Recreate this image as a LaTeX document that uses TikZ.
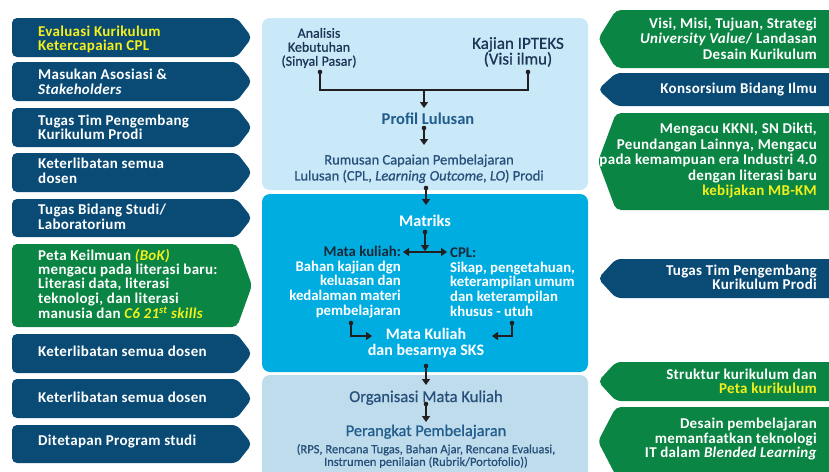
\documentclass[tikz,border=0pt]{standalone}
\usepackage{fontspec}
\setmainfont{Carlito}
\newfontfamily\tagfont[LetterSpace=2]{Carlito}
\newfontfamily\medfont[FakeBold=0.7]{Carlito}
\usetikzlibrary{arrows.meta}
\definecolor{navy}{HTML}{0A4B76}
\definecolor{leaf}{HTML}{0B8543}
\definecolor{yel}{HTML}{F4F01C}
\definecolor{panA}{HTML}{C9E8F8}
\definecolor{panB}{HTML}{00ADE1}
\definecolor{panC}{HTML}{BEDCEC}
\definecolor{ink}{HTML}{1C3455}
\definecolor{inkblue}{HTML}{215C8C}
\definecolor{inkmid}{HTML}{27507A}
\definecolor{inkdark}{HTML}{1A2A3A}
\definecolor{arr}{HTML}{231F20}
\newcommand\lshape[3]{\fill[#3,rounded corners=5pt] (12,#1) -- (237,#1) -- (252,{(#1+#2)/2}) -- (237,#2) -- (12,#2) -- cycle;}
\newcommand\rshape[3]{\fill[#3,rounded corners=5pt] (845,#1) -- (616,#1) -- (598,{(#1+#2)/2}) -- (616,#2) -- (845,#2) -- cycle;}
\begin{document}
\begin{tikzpicture}[x=1pt,y=-1pt,
 lt/.style={anchor=west,align=left,text=white,inner sep=0pt,font=\tagfont\bfseries\fontsize{15}{14.3}\selectfont},
 lone/.style={anchor=base west,text=white,inner sep=0pt,font=\tagfont\bfseries\fontsize{15}{14.3}\selectfont},
 rt/.style={anchor=east,align=right,text=white,inner sep=0pt,font=\tagfont\bfseries\fontsize{15}{15.5}\selectfont},
 rone/.style={anchor=base east,text=white,inner sep=0pt,font=\tagfont\bfseries\fontsize{15}{15.5}\selectfont},
 ct/.style={align=center,inner sep=0pt,text=ink},
 wt/.style={inner sep=0pt,text=white,font=\bfseries\fontsize{14.8}{14.75}\selectfont},
 conn/.style={draw=arr,line width=1.4pt,-{Triangle[length=6pt,width=8pt]}},
 link/.style={draw=arr,line width=1.4pt},
 dbl/.style={draw=arr,line width=1.4pt,{Triangle[length=6pt,width=8pt]}-{Triangle[length=6pt,width=8pt]}}]
\useasboundingbox (0,0) rectangle (829,471);
\clip (0,0) rectangle (829,471);
\fill[white] (0,0) rectangle (829,471);

% ---------- centre panels
\fill[panA,rounded corners=8pt] (262,18) rectangle (588,190);
\fill[panB,rounded corners=8pt] (262,194) rectangle (588,372);
\fill[panC,rounded corners=8pt] (262,375) rectangle (588,495);

% ---------- left boxes
\lshape{18}{57}{navy}
\lshape{62}{101}{navy}
\lshape{108}{147}{navy}
\lshape{153}{192}{navy}
\lshape{199}{237}{navy}
\lshape{244}{327}{leaf}
\lshape{334}{373}{navy}
\lshape{379}{418}{navy}
\lshape{425}{463}{navy}

\node[lt,text=yel] (l1) at (38,39.3) {Evaluasi Kurikulum\\Ketercapaian CPL};
\node[lt] (l2) at (38,81.7) {Masukan Asosiasi \&\\\textit{Stakeholders}};
\node[lt] (l3) at (38,127) {Tugas Tim Pengembang\\Kurikulum Prodi};
\node[lt] (l4) at (38,170.8) {Keterlibatan semua\\dosen};
\node[lt] (l5) at (38,216.7) {Tugas Bidang Studi/\\Laboratorium};
\node[lt] (l6) at (38,284) {Peta Keilmuan \textcolor{yel}{\textit{(BoK)}}\\mengacu pada literasi baru:\\Literasi data, literasi\\teknologi, dan literasi\\manusia dan \textcolor{yel}{\textit{C6 21\textsuperscript{st} skills}}};
\node[lone] (l7) at (38,356.7) {Keterlibatan semua dosen};
\node[lone] (l8) at (38,402.7) {Keterlibatan semua dosen};
\node[lone] (l9) at (38,445) {Ditetapan Program studi};

% ---------- right boxes
\rshape{10}{68}{leaf}
\rshape{73}{106}{navy}
\rshape{113}{210}{leaf}
\rshape{259}{298}{navy}
\rshape{362}{401}{leaf}
\rshape{407}{476}{leaf}

\node[rt] (r1) at (817,38.5) {Visi, Misi, Tujuan, Strategi\\\textit{University Value}/ Landasan\\Desain Kurikulum};
\node[rone] (r2) at (817,93.3) {Konsorsium Bidang Ilmu};
\node[rt] (r3) at (817,160.5) {Mengacu KKNI, SN Dikti,\\Peundangan Lainnya, Mengacu\\pada kemampuan era Industri 4.0\\dengan literasi baru\\\textcolor{yel}{kebijakan MB-KM}};
\node[rt,font=\tagfont\bfseries\fontsize{15}{14}\selectfont] (r4) at (817,277) {Tugas Tim Pengembang\\Kurikulum Prodi};
\node[rt,font=\tagfont\bfseries\fontsize{15}{14}\selectfont] (r5) at (817,381) {Struktur kurikulum dan\\\textcolor{yel}{Peta kurikulum}};
\node[rt,font=\tagfont\bfseries\fontsize{15}{14.5}\selectfont] (r6) at (817,439) {Desain pembelajaran\\memanfaatkan teknologi\\IT dalam \textit{Blended Learning}};

% ---------- centre texts
\node[ct,font=\medfont\fontsize{14}{14}\selectfont] (ana) at (319,48) {Analisis\\Kebutuhan\\(Sinyal Pasar)};
\node[ct,font=\medfont\fontsize{17}{15.6}\selectfont] (kaj) at (518,52) {Kajian IPTEKS\\(Visi ilmu)};
\node[anchor=base,inner sep=0pt,text=inkblue,font=\bfseries\fontsize{16.5}{18}\selectfont] (prof) at (428,124.5) {Profil Lulusan};
\node[ct,text=inkmid,font=\medfont\fontsize{14.5}{16}\selectfont] (rum) at (419,168.7) {Rumusan Capaian Pembelajaran\\Lulusan (CPL, \textit{Learning Outcome}, \textit{LO}) Prodi};

\node[anchor=base,inner sep=0pt,text=white,font=\bfseries\fontsize{16.3}{18}\selectfont] (mat) at (425,226) {Matriks};
\node[wt,anchor=east,align=right] (mk) at (401,282) {\textcolor{inkdark}{Mata kuliah:}\\Bahan kajian dgn\\keluasan dan\\kedalaman materi\\pembelajaran};
\node[wt,anchor=west,align=left] (cpl) at (450,282) {\textcolor{inkdark}{CPL:}\\Sikap, pengetahuan,\\keterampilan umum\\dan keterampilan\\khusus - utuh};
\node[wt,align=center,font=\bfseries\fontsize{16}{15.5}\selectfont] (mks) at (426,343) {Mata Kuliah\\dan besarnya SKS};

\node[anchor=base,inner sep=0pt,text=inkmid,font=\medfont\fontsize{16.6}{18}\selectfont] (org) at (426,402) {Organisasi Mata Kuliah};
\node[anchor=base,inner sep=0pt,text=inkblue,font=\medfont\fontsize{16.3}{18}\selectfont] (per) at (426,436) {Perangkat Pembelajaran};
\node[ct,text=inkmid,font=\medfont\fontsize{12.5}{12.7}\selectfont] (rps) at (426,456) {(RPS, Rencana Tugas, Bahan Ajar, Rencana Evaluasi,\\Instrumen penilaian (Rubrik/Portofolio))};

% ---------- connector points
\coordinate (d1) at (320,72);
\coordinate (d2) at (528,72);
\coordinate (j1) at (424,90);
\coordinate (t1) at (424,108);
\coordinate (d3) at (424,128);
\coordinate (t2) at (424,145);
\coordinate (d4) at (426,188);
\coordinate (t3) at (426,205);
\coordinate (d5) at (425,232);
\coordinate (t4) at (425,251);
\coordinate (h1) at (403,252);
\coordinate (h2) at (447,252);
\coordinate (d6) at (351,323);
\coordinate (t5) at (372,336);
\coordinate (d7) at (512,323);
\coordinate (t6) at (492,336);
\coordinate (d8) at (426,366);
\coordinate (t7) at (426,385);
\coordinate (d9) at (426,404);
\coordinate (t8) at (426,422);

\draw[link] (d1) |- (j1);
\draw[link] (d2) |- (j1);
\draw[conn] (j1) -- (t1);
\draw[conn] (d3) -- (t2);
\draw[conn] (d4) -- (t3);
\draw[conn] (d5) -- (t4);
\draw[dbl] (h1) -- (h2);
\draw[conn] (d6) |- (t5);
\draw[conn] (d7) |- (t6);
\draw[conn] (d8) -- (t7);
\draw[conn] (d9) -- (t8);
\foreach \p in {d1,d2,d3,d4,d5,d6,d7,d8,d9} \fill[arr] (\p) circle[radius=2.3pt];
\end{tikzpicture}
\end{document}
